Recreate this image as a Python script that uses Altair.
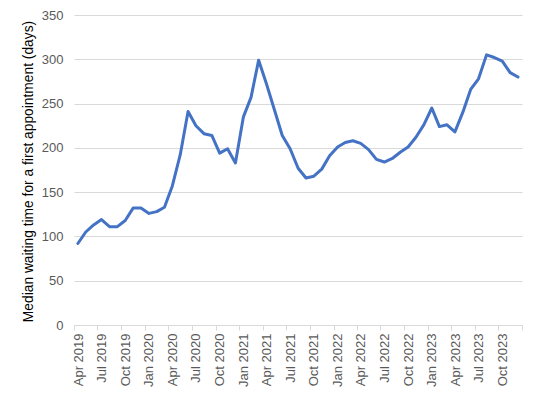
import altair as alt
import pandas as pd

# Monthly categories, Apr 2019 – Dec 2023
months = pd.date_range("2019-04-01", periods=57, freq="MS")

# Median waiting time for a first appointment (days)
median_days = [
    92, 105, 113, 119, 111, 111, 118, 132, 132,                 # 2019 Apr-Dec
    126, 128, 133, 157, 192, 241, 225, 216, 214, 194, 199, 183,  # 2020
    235, 257, 299, 272, 243, 214, 199, 177, 166, 168, 176, 191,  # 2021
    201, 206, 208, 205, 198, 187, 184, 188, 195, 201, 212, 226,  # 2022
    245, 224, 226, 218, 240, 266, 278, 305, 302, 298, 285, 280,  # 2023
]

# Axis tick positions (every 3 months, category boundaries)
tick_months = pd.date_range("2019-04-01", "2024-01-01", freq="3MS")
y_ticks = [0, 50, 100, 150, 200, 250, 300, 350]

df = pd.DataFrame({"month": months, "days": median_days})

tick_values = [alt.DateTime(year=int(d.year), month=int(d.month), date=1) for d in tick_months]

x = alt.X(
    "yearmonth(month):T",
    bandPosition=0.5,
    scale=alt.Scale(domain=[alt.DateTime(year=2019, month=4, date=1),
                            alt.DateTime(year=2024, month=1, date=1)]),
    axis=alt.Axis(
        values=tick_values,
        title=None,
        grid=False,
        domainColor="#d9d9d9",
        tickColor="#d9d9d9",
        tickSize=5,
        labelAngle=270,
        labelAlign="right",
        labelBaseline="middle",
        labelOffset=4,
        labelPadding=3,
        labelExpr="year(datum.value) >= 2024 ? '' : timeFormat(datum.value, '%b %Y')",
        labelFontSize=13,
        labelColor="#595959",
        labelFlush=False,
        labelOverlap=False,
    ),
)

y = alt.Y(
    "days:Q",
    scale=alt.Scale(domain=[0, 350], nice=False),
    axis=alt.Axis(
        values=y_ticks,
        title="Median waiting time for a first appointment (days)",
        grid=True,
        gridColor="#d9d9d9",
        domain=False,
        ticks=False,
        tickSize=0,
        labelPadding=11,
        labelFontSize=13,
        labelColor="#595959",
        titleFontSize=13.8,
        titleFontWeight="normal",
        titleColor="#000000",
        titleX=-46,
        titleY=156,
        titleAngle=270,
        titleAlign="center",
        titleBaseline="middle",
    ),
)

chart = (
    alt.Chart(df)
    .mark_line(color="#4472C4", strokeWidth=3, strokeJoin="round", strokeCap="round")
    .encode(x=x, y=y)
    .properties(
        width=448,
        height=310,
        padding={"left": 66, "top": 7, "right": 8, "bottom": 65},
        autosize=alt.AutoSizeParams(type="none"),
        background="white",
    )
    .configure(font="Liberation Sans")
    .configure_view(stroke=None)
)

chart.save("out.html", embed_options={"renderer": "svg", "actions": False})
